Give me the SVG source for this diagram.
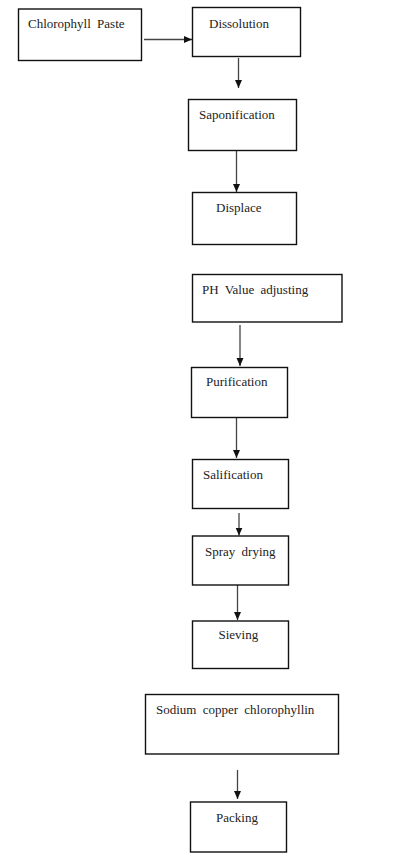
<svg xmlns="http://www.w3.org/2000/svg" width="414" height="858" viewBox="0 0 414 858">
<style>
.box{fill:#fff;stroke:#111;stroke-width:1.4}
.lbl{font-family:"Liberation Serif","Times New Roman",serif;font-size:13px;fill:#222}
.ws{word-spacing:3px}
.con{stroke:#444;stroke-width:1.3;fill:none;marker-end:url(#ah)}
</style>
<defs>
<marker id="ah" viewBox="0 0 8 8" refX="8" refY="4" markerWidth="8" markerHeight="8" markerUnits="userSpaceOnUse" orient="auto">
<path d="M0,0.5 L8,4 L0,7.5 Z" fill="#111"/>
</marker>
</defs>
<rect width="414" height="858" fill="#fff"/>
<g id="connectors">
<line class="con" x1="144" y1="39.5" x2="192" y2="39.5"/>
<line class="con" x1="238.5" y1="58" x2="238.5" y2="88"/>
<line class="con" x1="236.5" y1="151" x2="236.5" y2="192"/>
<line class="con" x1="240" y1="325" x2="240" y2="366"/>
<line class="con" x1="236.5" y1="418" x2="236.5" y2="458"/>
<line class="con" x1="239" y1="513" x2="239" y2="535.5"/>
<line class="con" x1="237.5" y1="585" x2="237.5" y2="620"/>
<line class="con" x1="237.5" y1="770" x2="237.5" y2="799"/>
</g>
<g id="chlorophyll-paste">
<rect class="box" x="18.5" y="9" width="123" height="51.5"/>
<text class="lbl ws" x="28" y="28">Chlorophyll Paste</text>
</g>
<g id="dissolution">
<rect class="box" x="192.5" y="7.5" width="108" height="49"/>
<text class="lbl" x="209" y="28">Dissolution</text>
</g>
<g id="saponification">
<rect class="box" x="188.5" y="99.5" width="108" height="51"/>
<text class="lbl" x="199" y="119">Saponification</text>
</g>
<g id="displace">
<rect class="box" x="192.5" y="192.5" width="104" height="52"/>
<text class="lbl" x="216" y="212">Displace</text>
</g>
<g id="ph-value-adjusting">
<rect class="box" x="192.5" y="274.5" width="149.5" height="47.5"/>
<text class="lbl ws" x="202" y="293.5">PH Value adjusting</text>
</g>
<g id="purification">
<rect class="box" x="191.5" y="367.5" width="96" height="50"/>
<text class="lbl" x="206" y="386">Purification</text>
</g>
<g id="salification">
<rect class="box" x="192.5" y="459.5" width="96" height="49"/>
<text class="lbl" x="203" y="479">Salification</text>
</g>
<g id="spray-drying">
<rect class="box" x="192.5" y="536" width="96" height="49"/>
<text class="lbl ws" x="205" y="555.5">Spray drying</text>
</g>
<g id="sieving">
<rect class="box" x="192.5" y="621" width="96" height="47.5"/>
<text class="lbl" x="218.5" y="638.5">Sieving</text>
</g>
<g id="sodium-copper-chlorophyllin">
<rect class="box" x="145.5" y="694.5" width="193" height="59.5"/>
<text class="lbl ws" x="156" y="713.5">Sodium copper chlorophyllin</text>
</g>
<g id="packing">
<rect class="box" x="190.5" y="802" width="96" height="50"/>
<text class="lbl" x="216" y="822">Packing</text>
</g>
</svg>
